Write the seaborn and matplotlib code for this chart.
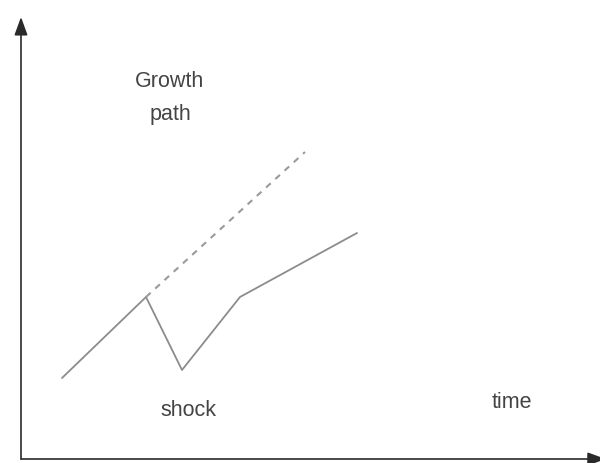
import matplotlib
matplotlib.use("Agg")
import matplotlib.pyplot as plt
import seaborn as sns
import pandas as pd

# actual path: steady growth, a shock, then recovery at a lower level
time = [41, 125, 161, 219, 336]
output = [81, 162, 89, 162, 226]

# growth path if there had been no shock
trend_time = [125, 284]
trend_output = [162, 307]

sns.set_style("white")
plt.rcParams["font.family"] = ["Liberation Sans", "DejaVu Sans"]

fig = plt.figure(figsize=(6, 4.63), dpi=100)
ax = fig.add_axes([21 / 600, 4 / 463, 579 / 600, 442 / 463])

actual = pd.DataFrame({"time": time, "output": output})
trend = pd.DataFrame({"time": trend_time, "output": trend_output})

sns.lineplot(data=actual, x="time", y="output", ax=ax, color="#8c8c8c",
             linewidth=1.3, sort=False)
sns.lineplot(data=trend, x="time", y="output", ax=ax, color="#9a9a9a",
             linewidth=1.5, linestyle=(0, (3, 3)))

ax.set_xlim(0, 579)
ax.set_ylim(0, 442)
for s in ax.spines.values():
    s.set_visible(False)
ax.set_xticks([])
ax.set_yticks([])
ax.set_xlabel("")
ax.set_ylabel("")

# axes drawn as arrows
arrow = dict(arrowstyle="-|>,head_length=1.1,head_width=0.4", color="#2a2a2a",
             lw=1.2, shrinkA=0, shrinkB=0)
ax.annotate("", xy=(0, 1), xytext=(0, 0), xycoords="axes fraction", arrowprops=arrow)
ax.annotate("", xy=(1.01, 0), xytext=(0, 0), xycoords="axes fraction", arrowprops=arrow)

txt = dict(fontsize=15.5, color="#444444", ha="center", va="center")
ax.text(149, 361, "Growth\npath", linespacing=1.75, **txt)
ax.text(167, 49, "shock", **txt)
ax.text(491, 56, "time", **txt)

fig.savefig("out.png", dpi=100)
